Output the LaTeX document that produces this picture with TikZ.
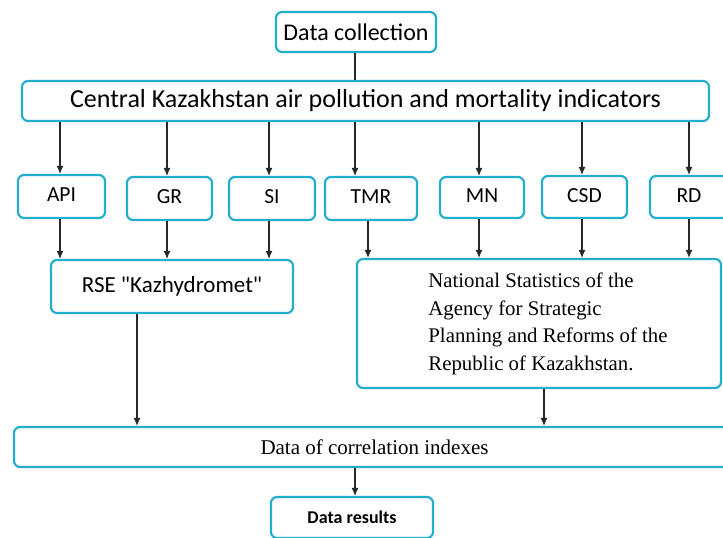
\documentclass[tikz,border=0pt]{standalone}
\usepackage{fontspec}
\setmainfont{Liberation Serif}
\newfontfamily\calib{Carlito}
\usetikzlibrary{arrows.meta}
\definecolor{boxc}{RGB}{34,174,205}
\definecolor{arrc}{RGB}{40,40,40}
\tikzset{
  bx/.style={draw=boxc, line width=2.2pt, rounded corners=6pt, fill=white, inner sep=0pt, font=\calib\fontsize{21.5}{24}\selectfont},
  arr/.style={draw=arrc, line width=1.1pt, -{Latex[length=8pt,width=7pt]}},
  ln/.style={draw=arrc, line width=1.1pt}
}
\begin{document}
\begin{tikzpicture}[x=1pt,y=-1pt]
\useasboundingbox (0,0) rectangle (723,538);
\clip (0,0) rectangle (723,538);
% boxes
\node[bx, minimum width=160pt, minimum height=40pt, font=\calib\fontsize{24}{26}\selectfont] (dc) at (356,32) {Data collection};
\node[bx, minimum width=687pt, minimum height=40pt, font=\calib\fontsize{26}{28}\selectfont] (central) at (365.5,101) {Central Kazakhstan air pollution and mortality indicators};
\node[bx, minimum width=87pt, minimum height=43pt] (api) at (61.5,196.5) {API\vphantom{g}};
\node[bx, minimum width=85pt, minimum height=43pt] (gr) at (169.5,198.5) {GR\vphantom{g}};
\node[bx, minimum width=86pt, minimum height=43pt] (si) at (272,198.5) {SI\vphantom{g}};
\node[bx, minimum width=92pt, minimum height=43pt] (tmr) at (371,198.5) {TMR\vphantom{g}};
\node[bx, minimum width=84pt, minimum height=41pt] (mn) at (482,197.5) {MN\vphantom{g}};
\node[bx, minimum width=85pt, minimum height=42pt] (csd) at (584.5,197) {CSD\vphantom{g}};
\node[bx, minimum width=78pt, minimum height=42pt] (rd) at (689,197) {RD\vphantom{g}};
\node[bx, minimum width=242pt, minimum height=53pt, font=\calib\fontsize{23}{26}\selectfont] (rse) at (172,286.5) {RSE "Kazhydromet"};
\node[bx, minimum width=364pt, minimum height=129pt] (nat) at (539,323.5) {};
\node[align=left, inner sep=0pt, font=\fontsize{20.8}{27.5}\selectfont] (natt) at (548,324)
  {National Statistics of the\\Agency for Strategic\\Planning and Reforms of the\\Republic of Kazakhstan.};
\node[bx, minimum width=721pt, minimum height=40pt, font=\fontsize{21}{24}\selectfont] (corr) at (374.5,447) {Data of correlation indexes};
\node[bx, minimum width=162pt, minimum height=41pt, font=\calib\bfseries\fontsize{18}{20}\selectfont] (res) at (352,517.5) {Data results};
% connectors
\draw[ln] (dc.south -| 355,0) -- (central.north -| 355,0);
\foreach \x/\n in {60/api,167/gr,269/si,355/tmr,479/mn,582/csd,689/rd}{
  \draw[arr] (central.south -| \x,0) -- (\n.north -| \x,0);
}
\foreach \x/\n in {60/api,167/gr,269/si}{
  \draw[arr] (\n.south -| \x,0) -- (rse.north -| \x,0);
}
\foreach \x/\n in {368/tmr,479/mn,582/csd,689/rd}{
  \draw[arr] (\n.south -| \x,0) -- (nat.north -| \x,0);
}
\draw[arr] (rse.south -| 137,0) -- (corr.north -| 137,0);
\draw[arr] (nat.south -| 544,0) -- (corr.north -| 544,0);
\draw[arr] (corr.south -| 355,0) -- (res.north -| 355,0);
\end{tikzpicture}
\end{document}
